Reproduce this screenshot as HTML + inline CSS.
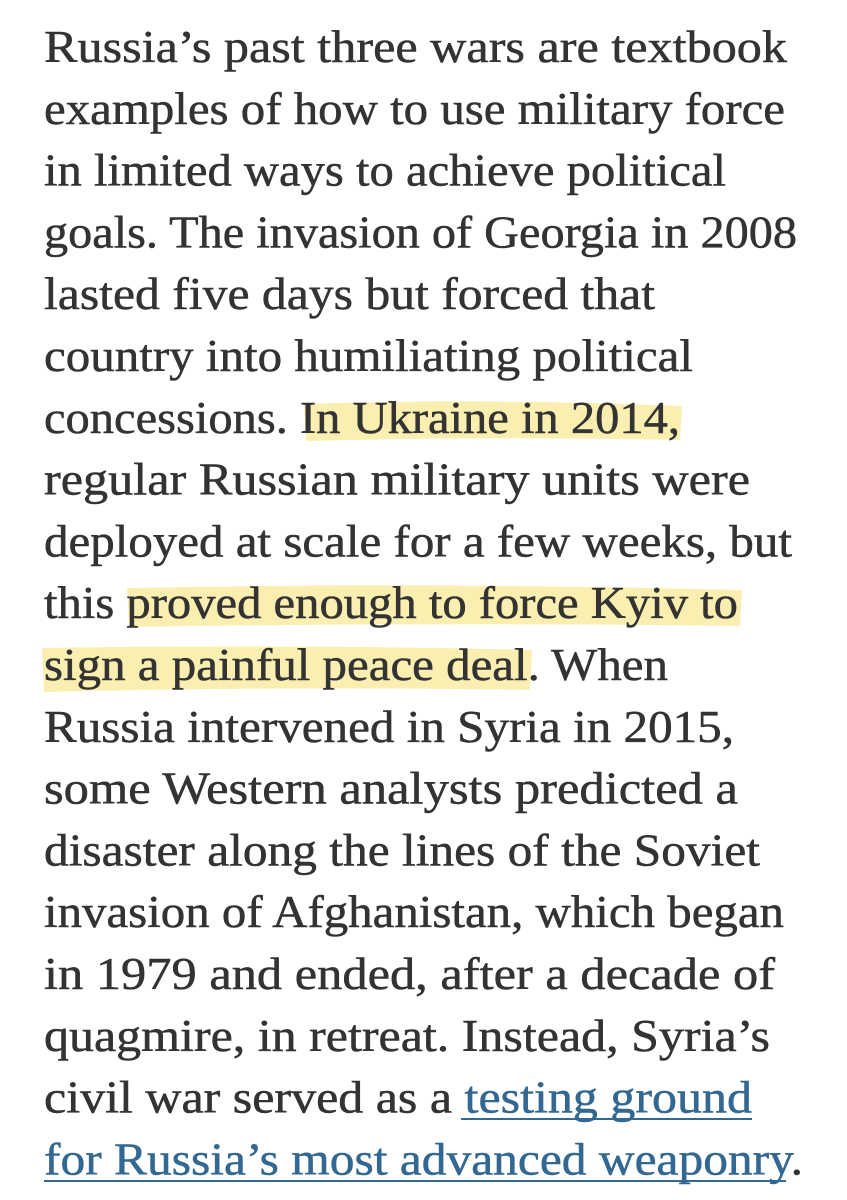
<!DOCTYPE html>
<html><head><meta charset="utf-8"><style>
html,body{margin:0;padding:0;background:#fff;width:847px;height:1200px;overflow:hidden}
svg{display:block}
text{font-family:"Liberation Serif","DejaVu Serif",serif;font-size:45px;fill:#333;stroke:#333;stroke-width:0.5px}
.link{fill:#326891;stroke:#326891}
</style></head><body>
<svg width="847" height="1200">
<g>
<path d="M304 404 Q490 398 682 406 L680 440 Q490 436 306 441 Z" fill="#faefb0"/>
<path d="M127 588 Q430 582 742 590 L740 626 Q430 622 129 627 Z" fill="#faefb0"/>
<path d="M42 648 Q290 644 532 650 L530 690 Q290 686 44 692 Z" fill="#faefb0"/>
</g>
<g id="lines"></g>
<g>
<line x1="461" y1="1119" x2="752" y2="1119" stroke="#326891" stroke-width="2"/>
<line x1="44" y1="1181" x2="786" y2="1181" stroke="#326891" stroke-width="2"/>
</g>
</svg>
<script>
const lines=[
["Russia’s past three wars are textbook",787],
["examples of how to use military force",785],
["in limited ways to achieve political",726],
["goals. The invasion of Georgia in 2008",797],
["lasted five days but forced that",655],
["country into humiliating political",693],
["concessions. In Ukraine in 2014,",680],
["regular Russian military units were",750],
["deployed at scale for a few weeks, but",792],
["this proved enough to force Kyiv to",738],
["sign a painful peace deal. When",668],
["Russia intervened in Syria in 2015,",734],
["some Western analysts predicted a",738],
["disaster along the lines of the Soviet",760],
["invasion of Afghanistan, which began",784],
["in 1979 and ended, after a decade of",775],
["quagmire, in retreat. Instead, Syria’s",770],
["civil war served as a |testing ground",752],
["|for Russia’s most advanced weaponry|.",803]
];
const g=document.getElementById('lines');
const NS="http://www.w3.org/2000/svg";
lines.forEach((l,i)=>{
  const t=document.createElementNS(NS,'text');
  
  
  t.setAttribute('x',44);
  t.setAttribute('y',(62+i*61.8).toFixed(1));
  t.setAttribute('textLength',l[1]-44);
  t.setAttribute('lengthAdjust','spacingAndGlyphs');
  const parts=l[0].split('|');
  parts.forEach((p,j)=>{
    if(!p)return;
    const s=document.createElementNS(NS,'tspan');
    s.textContent=p;
    const isLink=(i===17&&j===1)||(i===18&&j===1);
    if(isLink){s.setAttribute('class','link');}
    
    
    t.appendChild(s);
  });
  g.appendChild(t);
});
</script>
</body></html>
